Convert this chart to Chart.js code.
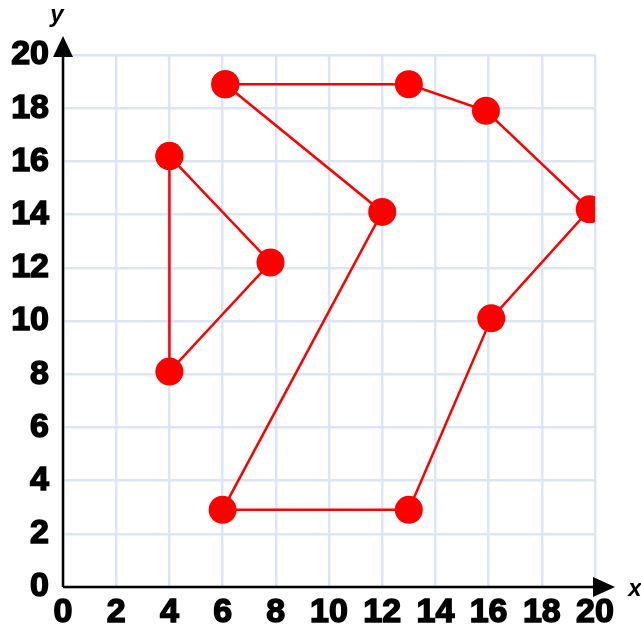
<!DOCTYPE html>
<html>
<head>
<meta charset="utf-8">
<script src="https://cdn.jsdelivr.net/npm/chart.js@4"></script>
<style>
  body { margin: 0; background: #fff; }
  #wrap { width: 641px; height: 631px; }
</style>
</head>
<body>
<div id="wrap"><canvas id="graph" width="641" height="631"></canvas></div>
<script>
// 삼각형 꼭짓점 (닫힌 도형이라 처음 점을 끝에 다시 넣음)
const triX = [4, 7.8, 4, 4];
const triY = [16.2, 12.2, 8.1, 16.2];

// 큰 다각형 꼭짓점
const polyX = [6.1, 13, 15.9, 19.8, 16.1, 13, 6, 12, 6.1];
const polyY = [18.9, 18.9, 17.9, 14.2, 10.1, 2.9, 2.9, 14.1, 18.9];

const tickValues = [0, 2, 4, 6, 8, 10, 12, 14, 16, 18, 20];

const toPoints = (xs, ys) => xs.map((x, i) => ({ x: x, y: ys[i] }));

const RED = '#ff0000';
const GRID = '#dde5f4';
const tickFont = { family: 'Liberation Sans', size: 34, weight: 'bold' };

// 축 화살표와 x, y 글자
const arrowPlugin = {
    id: 'arrows',
    afterDraw(chart) {
        const c = chart.ctx;
        const a = chart.chartArea;
        c.save();
        c.strokeStyle = '#000';
        c.fillStyle = '#000';
        c.lineWidth = 2.5;
        // x축 연장 + 화살표
        c.beginPath();
        c.moveTo(a.left, a.bottom);
        c.lineTo(a.right + 5, a.bottom);
        c.stroke();
        c.beginPath();
        c.moveTo(a.right - 2, a.bottom - 10);
        c.lineTo(a.right + 20, a.bottom);
        c.lineTo(a.right - 2, a.bottom + 10);
        c.closePath();
        c.fill();
        // y축 연장 + 화살표
        c.beginPath();
        c.moveTo(a.left, a.bottom);
        c.lineTo(a.left, a.top - 5);
        c.stroke();
        c.beginPath();
        c.moveTo(a.left - 10, a.top + 2);
        c.lineTo(a.left, a.top - 19);
        c.lineTo(a.left + 10, a.top + 2);
        c.closePath();
        c.fill();
        // 축 이름
        c.font = 'italic bold 24px "Liberation Sans"';
        c.textAlign = 'center';
        c.textBaseline = 'middle';
        c.fillText('y', a.left - 6, a.top - 40);
        c.fillText('x', a.right + 40, a.bottom + 2);
        c.restore();
    }
};

const chart = new Chart(document.getElementById('graph'), {
    type: 'scatter',
    data: {
        datasets: [
            {
                label: 'triangle',
                data: toPoints(triX, triY),
                showLine: true,
                borderColor: RED,
                backgroundColor: RED,
                borderWidth: 2.5,
                pointRadius: 14,
                pointHoverRadius: 14,
                pointBorderWidth: 0
            },
            {
                label: 'polygon',
                data: toPoints(polyX, polyY),
                showLine: true,
                borderColor: RED,
                backgroundColor: RED,
                borderWidth: 2.5,
                pointRadius: 14,
                pointHoverRadius: 14,
                pointBorderWidth: 0
            }
        ]
    },
    options: {
        responsive: false,
        animation: false,
        layout: {
            padding: { top: 55, right: 46, left: 0, bottom: 0 }
        },
        plugins: {
            legend: { display: false },
            tooltip: { enabled: false }
        },
        scales: {
            x: {
                type: 'linear',
                min: 0,
                max: 20,
                afterBuildTicks: (s) => { s.ticks = tickValues.map(v => ({ value: v })); },
                afterFit: (s) => { s.height = 44; },
                grid: { color: GRID, lineWidth: 2.5, drawTicks: false },
                border: { display: false },
                ticks: {
                    color: '#000', font: tickFont, padding: 5, maxRotation: 0, autoSkip: false,
                    textStrokeColor: '#000', textStrokeWidth: 1.5
                }
            },
            y: {
                type: 'linear',
                min: 0,
                max: 20,
                afterBuildTicks: (s) => { s.ticks = tickValues.map(v => ({ value: v })); },
                afterFit: (s) => { s.width = 63; },
                grid: { color: GRID, lineWidth: 2.5, drawTicks: false },
                border: { display: false },
                ticks: {
                    color: '#000', font: tickFont, padding: 14, autoSkip: false,
                    textStrokeColor: '#000', textStrokeWidth: 1.5
                }
            }
        }
    },
    plugins: [arrowPlugin]
});
</script>
</body>
</html>
